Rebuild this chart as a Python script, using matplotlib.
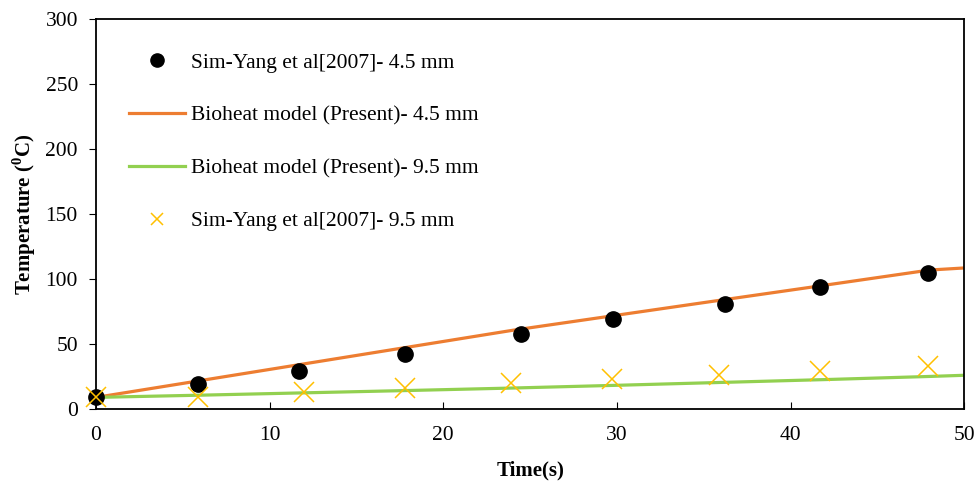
import matplotlib
matplotlib.use("Agg")
import matplotlib.pyplot as plt
from matplotlib.lines import Line2D

plt.rcParams["font.family"] = "Liberation Serif"
plt.rcParams["mathtext.fontset"] = "custom"
plt.rcParams["mathtext.rm"] = "Liberation Serif"
plt.rcParams["mathtext.bf"] = "Liberation Serif:bold"

# measured points (Sim-Yang et al 2007)
t_meas_45 = [0, 5.9, 11.7, 17.8, 24.5, 29.8, 36.2, 41.7, 47.9]
T_meas_45 = [9.5, 19, 29.5, 42, 57.5, 69.2, 80.8, 94, 105]
t_meas_95 = [0, 5.9, 12.0, 17.8, 23.9, 29.7, 35.9, 41.7, 47.9]
T_meas_95 = [9.5, 9.5, 13.3, 15.9, 20.3, 22.8, 26.2, 29.5, 33]

# bioheat model curves
t_model = [0, 6, 12, 18, 24, 30, 36, 42, 48, 50]
T_model_45 = [9, 21.9, 34.8, 47.7, 60.6, 72.2, 83.8, 95.3, 106.9, 108.5]
T_model_95 = [9, 10.7, 12.5, 14.3, 16.2, 18.3, 20.5, 22.7, 25.1, 26]

orange = "#ED7D31"
green = "#92D050"
yellow = "#FFC000"

fig = plt.figure(figsize=(9.79, 4.83), dpi=100)
ax = fig.add_axes([0.098, 0.153, 0.887, 0.808])

ax.plot(t_model, T_model_45, color=orange, lw=2.3, zorder=2)
ax.plot(t_model, T_model_95, color=green, lw=2.3, zorder=2)
ax.plot(t_meas_45, T_meas_45, "o", color="black", ms=11, zorder=3, clip_on=False)
ax.plot(t_meas_95, T_meas_95, "x", color=yellow, ms=14, mew=1.1, zorder=3,
        clip_on=False)

ax.set_xlim(0, 50)
ax.set_ylim(0, 300)
ax.set_xticks(range(0, 51, 10))
ax.set_yticks(range(0, 301, 50))
ax.tick_params(axis="x", direction="in", length=5, pad=12, labelsize=15.5)
ax.tick_params(axis="y", direction="out", length=5, pad=8, labelsize=15.5)
for s in ax.spines.values():
    s.set_linewidth(1.3)

ax.set_xlabel("Time(s)", fontsize=15, fontweight="bold", labelpad=11)
ax.set_ylabel(r"Temperature ($^{\mathbf{0}}$C)", fontsize=15,
              fontweight="bold", labelpad=5)

handles = [
    Line2D([], [], ls="none", marker="o", color="black", ms=9.5),
    Line2D([], [], color=orange, lw=2.3),
    Line2D([], [], color=green, lw=2.3),
    Line2D([], [], ls="none", marker="x", color=yellow, ms=9, mew=1.1),
]
labels = [
    "Sim-Yang et al[2007]- 4.5 mm",
    "Bioheat model (Present)- 4.5 mm",
    "Bioheat model (Present)- 9.5 mm",
    "Sim-Yang et al[2007]- 9.5 mm",
]
ax.legend(handles, labels, loc="upper left", bbox_to_anchor=(0.016, 0.963),
          frameon=False, fontsize=15.5, handlelength=2.6, handletextpad=0.25,
          labelspacing=1.52)

fig.savefig("out.png", dpi=100)
